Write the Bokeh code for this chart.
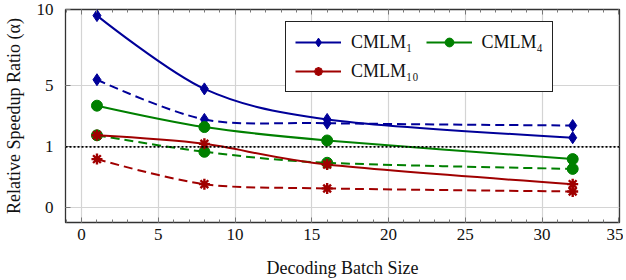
import numpy as np
from bokeh.plotting import figure
from bokeh.models import (Range1d, LinearAxis, FixedTicker, Legend, LegendItem,
                          Span, ColumnDataSource)
from bokeh.embed import file_html
from bokeh.resources import INLINE

# ---------------- data ----------------
batch_sizes = [1, 8, 16, 32]

cmlm1_solid = [9.6, 4.8, 2.8, 1.6]
cmlm1_dashed = [5.4, 2.8, 2.55, 2.4]
cmlm4_solid = [3.7, 2.3, 1.42, 0.8]
cmlm4_dashed = [1.76, 0.92, 0.74, 0.64]
cmlm10_solid = [1.76, 1.2, 0.71, 0.39]
cmlm10_dashed = [0.8, 0.39, 0.32, 0.27]

x_tick_values = [0, 5, 10, 15, 20, 25, 30, 35]
y_tick_values = [0, 1, 5, 10]
y_tick_labels = ["0", "1", "5", "10"]
reference_ratio = 1

# the y axis is non-uniform: ticks 0, 1, 5, 10 sit at these axis positions
y_axis_positions = [0, 1, 2, 3.25]


def to_axis(v):
    return np.interp(np.asarray(v, dtype=float), y_tick_values, y_axis_positions)


BLUE = "#000099"
GREEN = "#008000"
RED = "#a00000"
FONT = "Liberation Serif"

p = figure(frame_width=554, frame_height=213, output_backend="svg", toolbar_location=None,
           x_range=Range1d(-1.05, 35.05), y_range=Range1d(-0.238, 3.25),
           min_border_left=55, min_border_right=4, min_border_top=13,
           min_border_bottom=0)
p.styles = {"margin-top": "-4px"}

xa = p.xaxis[0]
ya = p.yaxis[0]

xt = FixedTicker(ticks=x_tick_values,
                 minor_ticks=[t for t in range(-1, 36) if t % 5 != 0])
ypos = [float(v) for v in to_axis(y_tick_values)]
yt = FixedTicker(ticks=ypos, minor_ticks=[])

xa.ticker = xt
ya.ticker = yt
ya.major_label_overrides = {pos: lab for pos, lab in zip(ypos, y_tick_labels)}
p.xgrid.ticker = xt
p.ygrid.ticker = yt
p.grid.grid_line_color = "#d4d4d4"
p.grid.grid_line_width = 1.2

top = LinearAxis(ticker=xt, major_label_standoff=0,
                 major_label_overrides={float(t): "" for t in x_tick_values})
p.add_layout(top, "above")

for ax in [xa, ya, top]:
    ax.axis_line_color = None
    ax.major_tick_in = 5
    ax.major_tick_out = 0
    ax.minor_tick_in = 3
    ax.minor_tick_out = 0
    ax.major_tick_line_color = "#777777"
    ax.minor_tick_line_color = "#777777"
    ax.major_label_text_font = FONT
    ax.major_label_text_font_size = "17px"
    ax.major_label_text_color = "#111111"
    ax.axis_label_text_font = FONT
    ax.axis_label_text_font_size = "18px"
    ax.axis_label_text_font_style = "normal"
    ax.axis_label_text_color = "#111111"

xa.axis_label = "Decoding Batch Size"
ya.axis_label = "Relative Speedup Ratio (α)"
xa.major_label_standoff = 6
xa.axis_label_standoff = 15
ya.major_label_standoff = 12
ya.axis_label_standoff = 10

p.outline_line_color = "#333333"
p.outline_line_width = 1.3

p.add_layout(Span(location=float(to_axis(reference_ratio)), dimension="width",
                  line_color="black", line_dash="2 2", line_width=1.8))

K = 0.15


def smooth(values, color, dash):
    x = np.asarray(batch_sizes, dtype=float)
    y = to_axis(values)
    n = len(x)
    tx = np.zeros(n)
    ty = np.zeros(n)
    for i in range(1, n - 1):
        tx[i] = x[i + 1] - x[i - 1]
        ty[i] = y[i + 1] - y[i - 1]
    src = ColumnDataSource(dict(
        x0=x[:-1], y0=y[:-1], x1=x[1:], y1=y[1:],
        cx0=x[:-1] + K * tx[:-1], cy0=y[:-1] + K * ty[:-1],
        cx1=x[1:] - K * tx[1:], cy1=y[1:] - K * ty[1:]))
    return p.bezier(x0="x0", y0="y0", x1="x1", y1="y1", cx0="cx0", cy0="cy0",
                    cx1="cx1", cy1="cy1", source=src, line_color=color, line_width=2,
                    line_dash=dash)


def markers(values, color, marker):
    y = to_axis(values)
    if marker == "asterisk":
        return p.scatter(batch_sizes, y, marker="asterisk", size=11,
                         line_color=color, line_width=2.4)
    if marker == "diamond":
        return p.scatter(batch_sizes, y, marker="diamond", size=12,
                         fill_color=color, line_color=color, line_width=1)
    return p.scatter(batch_sizes, y, marker="circle", size=11,
                     fill_color=color, line_color=color, line_width=1)


series = [
    (cmlm1_solid, cmlm1_dashed, BLUE, "diamond", "CMLM₁"),
    (cmlm4_solid, cmlm4_dashed, GREEN, "circle", "CMLM₄"),
    (cmlm10_solid, cmlm10_dashed, RED, "asterisk", "CMLM₁₀"),
]

items = []
for solid, dashed, color, mk, name in series:
    smooth(dashed, color, "9 5")
    markers(dashed, color, mk)
    lr = smooth(solid, color, "solid")
    sr = markers(solid, color, mk)
    items.append(LegendItem(label=name, renderers=[lr, sr]))

legend = Legend(items=items, location=(220, 130), orientation="horizontal", nrows=2,
                label_text_font=FONT, label_text_font_size="18px",
                label_text_color="#111111",
                glyph_width=46, glyph_height=22, label_height=22,
                label_standoff=10, spacing=7, padding=9, margin=0,
                border_line_color="#222222", border_line_width=1.3,
                border_line_alpha=1.0,
                background_fill_color="white", background_fill_alpha=1.0)
p.add_layout(legend, "center")

open("out.html", "w").write(file_html(p, INLINE))
